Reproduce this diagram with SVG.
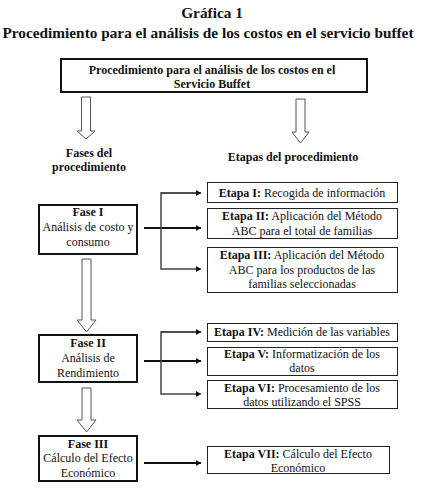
<svg xmlns="http://www.w3.org/2000/svg" width="424" height="489" viewBox="0 0 424 489">
<style>
text{fill:#111;text-anchor:middle}
.t{font-weight:bold;font-size:15.3px}
.b{font-size:12px}
.bb{font-size:12px;font-weight:bold}
.thick{fill:#fff;stroke:#111;stroke-width:2}
.thin{fill:#fff;stroke:#222;stroke-width:1}
.hol{fill:#fff;stroke:#555;stroke-width:1}
.main{stroke:#111;stroke-width:2;fill:none}
.br{stroke:#444;stroke-width:1.5;fill:none}
</style>
<defs>
<marker id="ah" markerWidth="6" markerHeight="6" refX="5" refY="3" orient="auto" markerUnits="userSpaceOnUse">
<path d="M0,0 L5,3 L0,6 Z" fill="#111"/>
</marker>
</defs>
<rect width="424" height="489" fill="#fff"/>
<g font-family="'Liberation Serif', 'Times New Roman', 'DejaVu Serif', serif">
<text class="t" x="212" y="18">Gráfica 1</text>
<text class="t" x="208" y="38">Procedimiento para el análisis de los costos en el servicio buffet</text>

<g id="top">
<rect class="thick" x="61" y="59" width="306" height="33"/>
<text class="bb" x="212" y="74">Procedimiento para el análisis de los costos en el</text>
<text class="bb" x="212" y="88">Servicio Buffet</text>
</g>

<g id="arrows-hollow">
<path class="hol" d="M81.5,97 H90.5 V131 H95 L86,139 L77,131 H81.5 Z"/>
<path class="hol" d="M296,99 H305 V132 H309 L300.5,143 L292,132 H296 Z"/>
<path class="hol" d="M82,259 H91 V320 H96 L86.5,332 L77,320 H82 Z"/>
<path class="hol" d="M82,388 H91 V420 H96 L86.5,432 L77,420 H82 Z"/>
</g>

<g id="labels">
<text class="bb" x="89" y="157">Fases del</text>
<text class="bb" x="89" y="171">procedimiento</text>
<text class="bb" x="293" y="161">Etapas del procedimiento</text>
</g>

<g id="fase1">
<rect class="thick" x="39" y="205" width="98" height="49"/>
<text class="bb" x="88" y="216">Fase I</text>
<text class="b" x="88" y="231">Análisis de costo y</text>
<text class="b" x="88" y="246">consumo</text>
</g>
<g id="fase2">
<rect class="thick" x="39" y="335" width="98" height="47"/>
<text class="bb" x="88" y="347">Fase II</text>
<text class="b" x="88" y="362">Análisis de</text>
<text class="b" x="88" y="377">Rendimiento</text>
</g>
<g id="fase3">
<rect class="thick" x="39" y="436" width="98" height="45"/>
<text class="bb" x="88" y="448">Fase III</text>
<text class="b" x="88" y="462">Cálculo del Efecto</text>
<text class="b" x="88" y="477">Económico</text>
</g>

<g id="etapa1">
<rect class="thin" x="207.5" y="182.5" width="190" height="20"/>
<text class="b" x="302" y="197"><tspan font-weight="bold">Etapa I:</tspan> Recogida de información</text>
</g>
<g id="etapa2">
<rect class="thin" x="207.5" y="208.5" width="190" height="30"/>
<text class="b" x="302" y="220"><tspan font-weight="bold">Etapa II:</tspan> Aplicación del Método</text>
<text class="b" x="302" y="235">ABC para el total de familias</text>
</g>
<g id="etapa3">
<rect class="thin" x="207.5" y="247.5" width="190" height="45"/>
<text class="b" x="302" y="259"><tspan font-weight="bold">Etapa III:</tspan> Aplicación del Método</text>
<text class="b" x="302" y="274">ABC para los productos de las</text>
<text class="b" x="302" y="288">familias seleccionadas</text>
</g>
<g id="etapa4">
<rect class="thin" x="207.5" y="323.5" width="190" height="18"/>
<text class="b" x="302" y="336"><tspan font-weight="bold">Etapa IV:</tspan> Medición de las variables</text>
</g>
<g id="etapa5">
<rect class="thin" x="207.5" y="347.5" width="190" height="28"/>
<text class="b" x="302" y="358"><tspan font-weight="bold">Etapa V:</tspan> Informatización de los</text>
<text class="b" x="302" y="372">datos</text>
</g>
<g id="etapa6">
<rect class="thin" x="207.5" y="380.5" width="190" height="28"/>
<text class="b" x="302" y="392"><tspan font-weight="bold">Etapa VI:</tspan> Procesamiento de los</text>
<text class="b" x="302" y="406">datos utilizando el SPSS</text>
</g>
<g id="etapa7">
<rect class="thin" x="207.5" y="446.5" width="182" height="27"/>
<text class="b" x="298" y="458"><tspan font-weight="bold">Etapa VII:</tspan> Cálculo del Efecto</text>
<text class="b" x="298" y="472">Económico</text>
</g>
</g>

<g id="connectors">
<path class="main" d="M144,228 H201" marker-end="url(#ah)"/>
<path class="br" d="M201,193 H161 V269 H201" marker-end="url(#ah)"/>
<path class="br" d="M161,193 H201" marker-end="url(#ah)"/>
<path class="main" d="M144,361 H201" marker-end="url(#ah)"/>
<path class="br" d="M201,332 H161 V394 H201" marker-end="url(#ah)"/>
<path class="br" d="M161,332 H201" marker-end="url(#ah)"/>
<path class="main" d="M144,463 H201" marker-end="url(#ah)"/>
</g>
</svg>
